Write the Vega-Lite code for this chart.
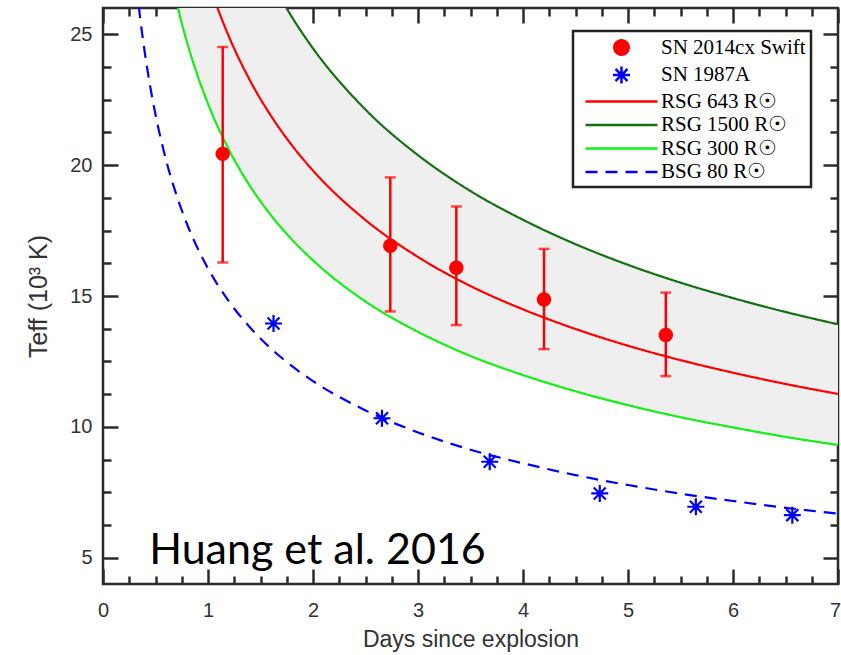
{
  "$schema": "https://vega.github.io/schema/vega-lite/v6.json",
  "width": 735,
  "height": 576,
  "autosize": {"type": "none"},
  "padding": {"left": 103, "top": 8, "right": 3, "bottom": 71},
  "background": "white",
  "datasets": {
    "band": [
      {"t": 0.6, "lo": 28.11, "hi": 42.03},
      {"t": 0.7, "lo": 26.23, "hi": 39.23},
      {"t": 0.8, "lo": 24.69, "hi": 36.93},
      {"t": 0.9, "lo": 23.42, "hi": 35.03},
      {"t": 1.0, "lo": 22.34, "hi": 33.41},
      {"t": 1.2, "lo": 20.58, "hi": 30.77},
      {"t": 1.4, "lo": 19.20, "hi": 28.71},
      {"t": 1.6, "lo": 18.08, "hi": 27.04},
      {"t": 1.8, "lo": 17.15, "hi": 25.65},
      {"t": 2.0, "lo": 16.36, "hi": 24.46},
      {"t": 2.5, "lo": 14.79, "hi": 22.12},
      {"t": 3.0, "lo": 13.63, "hi": 20.38},
      {"t": 3.5, "lo": 12.71, "hi": 19.01},
      {"t": 4.0, "lo": 11.98, "hi": 17.91},
      {"t": 4.5, "lo": 11.36, "hi": 16.98},
      {"t": 5.0, "lo": 10.83, "hi": 16.19},
      {"t": 5.5, "lo": 10.37, "hi": 15.51},
      {"t": 6.0, "lo": 9.98, "hi": 14.92},
      {"t": 6.5, "lo": 9.62, "hi": 14.39},
      {"t": 7.0, "lo": 9.31, "hi": 13.92}
    ],
    "curves": [
      {"series": "RSG 300 R☉", "t": 0.6, "T": 28.11},
      {"series": "RSG 300 R☉", "t": 0.7, "T": 26.23},
      {"series": "RSG 300 R☉", "t": 0.8, "T": 24.69},
      {"series": "RSG 300 R☉", "t": 0.9, "T": 23.42},
      {"series": "RSG 300 R☉", "t": 1.0, "T": 22.34},
      {"series": "RSG 300 R☉", "t": 1.2, "T": 20.58},
      {"series": "RSG 300 R☉", "t": 1.4, "T": 19.20},
      {"series": "RSG 300 R☉", "t": 1.6, "T": 18.08},
      {"series": "RSG 300 R☉", "t": 1.8, "T": 17.15},
      {"series": "RSG 300 R☉", "t": 2.0, "T": 16.36},
      {"series": "RSG 300 R☉", "t": 2.5, "T": 14.79},
      {"series": "RSG 300 R☉", "t": 3.0, "T": 13.63},
      {"series": "RSG 300 R☉", "t": 3.5, "T": 12.71},
      {"series": "RSG 300 R☉", "t": 4.0, "T": 11.98},
      {"series": "RSG 300 R☉", "t": 4.5, "T": 11.36},
      {"series": "RSG 300 R☉", "t": 5.0, "T": 10.83},
      {"series": "RSG 300 R☉", "t": 5.5, "T": 10.37},
      {"series": "RSG 300 R☉", "t": 6.0, "T": 9.98},
      {"series": "RSG 300 R☉", "t": 6.5, "T": 9.62},
      {"series": "RSG 300 R☉", "t": 7.0, "T": 9.31},
      {"series": "RSG 1500 R☉", "t": 1.6, "T": 27.04},
      {"series": "RSG 1500 R☉", "t": 1.8, "T": 25.65},
      {"series": "RSG 1500 R☉", "t": 2.0, "T": 24.46},
      {"series": "RSG 1500 R☉", "t": 2.5, "T": 22.12},
      {"series": "RSG 1500 R☉", "t": 3.0, "T": 20.38},
      {"series": "RSG 1500 R☉", "t": 3.5, "T": 19.01},
      {"series": "RSG 1500 R☉", "t": 4.0, "T": 17.91},
      {"series": "RSG 1500 R☉", "t": 4.5, "T": 16.98},
      {"series": "RSG 1500 R☉", "t": 5.0, "T": 16.19},
      {"series": "RSG 1500 R☉", "t": 5.5, "T": 15.51},
      {"series": "RSG 1500 R☉", "t": 6.0, "T": 14.92},
      {"series": "RSG 1500 R☉", "t": 6.5, "T": 14.39},
      {"series": "RSG 1500 R☉", "t": 7.0, "T": 13.92},
      {"series": "RSG 643 R☉", "t": 1.0, "T": 27.03},
      {"series": "RSG 643 R☉", "t": 1.1, "T": 25.90},
      {"series": "RSG 643 R☉", "t": 1.2, "T": 24.90},
      {"series": "RSG 643 R☉", "t": 1.4, "T": 23.23},
      {"series": "RSG 643 R☉", "t": 1.6, "T": 21.88},
      {"series": "RSG 643 R☉", "t": 1.8, "T": 20.75},
      {"series": "RSG 643 R☉", "t": 2.0, "T": 19.79},
      {"series": "RSG 643 R☉", "t": 2.5, "T": 17.90},
      {"series": "RSG 643 R☉", "t": 3.0, "T": 16.49},
      {"series": "RSG 643 R☉", "t": 3.5, "T": 15.38},
      {"series": "RSG 643 R☉", "t": 4.0, "T": 14.49},
      {"series": "RSG 643 R☉", "t": 4.5, "T": 13.74},
      {"series": "RSG 643 R☉", "t": 5.0, "T": 13.10},
      {"series": "RSG 643 R☉", "t": 5.5, "T": 12.55},
      {"series": "RSG 643 R☉", "t": 6.0, "T": 12.07},
      {"series": "RSG 643 R☉", "t": 6.5, "T": 11.64},
      {"series": "RSG 643 R☉", "t": 7.0, "T": 11.26},
      {"series": "BSG 80 R☉", "t": 0.3, "T": 27.59},
      {"series": "BSG 80 R☉", "t": 0.35, "T": 25.75},
      {"series": "BSG 80 R☉", "t": 0.4, "T": 24.24},
      {"series": "BSG 80 R☉", "t": 0.45, "T": 22.99},
      {"series": "BSG 80 R☉", "t": 0.5, "T": 21.93},
      {"series": "BSG 80 R☉", "t": 0.6, "T": 20.20},
      {"series": "BSG 80 R☉", "t": 0.7, "T": 18.85},
      {"series": "BSG 80 R☉", "t": 0.8, "T": 17.75},
      {"series": "BSG 80 R☉", "t": 0.9, "T": 16.83},
      {"series": "BSG 80 R☉", "t": 1.0, "T": 16.05},
      {"series": "BSG 80 R☉", "t": 1.2, "T": 14.79},
      {"series": "BSG 80 R☉", "t": 1.4, "T": 13.80},
      {"series": "BSG 80 R☉", "t": 1.6, "T": 12.99},
      {"series": "BSG 80 R☉", "t": 1.8, "T": 12.32},
      {"series": "BSG 80 R☉", "t": 2.0, "T": 11.75},
      {"series": "BSG 80 R☉", "t": 2.5, "T": 10.63},
      {"series": "BSG 80 R☉", "t": 3.0, "T": 9.79},
      {"series": "BSG 80 R☉", "t": 3.5, "T": 9.13},
      {"series": "BSG 80 R☉", "t": 4.0, "T": 8.61},
      {"series": "BSG 80 R☉", "t": 4.5, "T": 8.16},
      {"series": "BSG 80 R☉", "t": 5.0, "T": 7.78},
      {"series": "BSG 80 R☉", "t": 5.5, "T": 7.45},
      {"series": "BSG 80 R☉", "t": 6.0, "T": 7.17},
      {"series": "BSG 80 R☉", "t": 6.5, "T": 6.91},
      {"series": "BSG 80 R☉", "t": 7.0, "T": 6.69}
    ],
    "swift": [
      {"series": "SN 2014cx Swift", "t": 1.14, "T": 20.43, "lo": 16.28, "hi": 24.51},
      {"series": "SN 2014cx Swift", "t": 2.736, "T": 16.92, "lo": 14.41, "hi": 19.53},
      {"series": "SN 2014cx Swift", "t": 3.365, "T": 16.08, "lo": 13.89, "hi": 18.42},
      {"series": "SN 2014cx Swift", "t": 4.2, "T": 14.87, "lo": 12.97, "hi": 16.8},
      {"series": "SN 2014cx Swift", "t": 5.36, "T": 13.51, "lo": 11.94, "hi": 15.13}
    ],
    "sn87": [
      {"series": "SN 1987A", "t": 1.624, "T": 13.95},
      {"series": "SN 1987A", "t": 2.657, "T": 10.33},
      {"series": "SN 1987A", "t": 3.683, "T": 8.67},
      {"series": "SN 1987A", "t": 4.731, "T": 7.46},
      {"series": "SN 1987A", "t": 5.646, "T": 6.95},
      {"series": "SN 1987A", "t": 6.565, "T": 6.63}
    ],
    "note": [
      {"label": "Huang et al. 2016", "t": 0.44, "T": 4.77}
    ]
  },
  "layer": [
    {
      "data": {"name": "band"},
      "mark": {"type": "area", "color": "#efefef", "clip": true, "interpolate": "monotone"},
      "encoding": {
        "x": {"field": "t", "type": "quantitative", "scale": {"domain": [0, 7], "nice": false, "zero": false},
          "axis": {"orient": "bottom", "values": [0, 1, 2, 3, 4, 5, 6, 7], "tickSize": -15, "labelPadding": 31, "labelOffset": {"condition": {"test": "datum.value === 7", "value": -3}, "value": 0}, "title": "Days since explosion", "titlePadding": 8}},
        "y": {"field": "lo", "type": "quantitative", "scale": {"domain": [4, 26], "nice": false, "zero": false},
          "axis": {"orient": "left", "values": [5, 10, 15, 20, 25], "tickSize": -15, "labelPadding": 26, "title": "Teff (10³ K)", "titleFontSize": 25, "titlePadding": 18}},
        "y2": {"field": "hi"}
      }
    },
    {
      "data": {"name": "curves"},
      "mark": {"type": "line", "clip": true, "strokeWidth": 2.2, "interpolate": "monotone"},
      "encoding": {
        "x": {"field": "t", "type": "quantitative",
          "axis": {"orient": "bottom", "values": [0.25, 0.5, 0.75, 1.25, 1.5, 1.75, 2.25, 2.5, 2.75, 3.25, 3.5, 3.75, 4.25, 4.5, 4.75, 5.25, 5.5, 5.75, 6.25, 6.5, 6.75], "tickSize": -8, "labels": false, "title": null}},
        "y": {"field": "T", "type": "quantitative",
          "axis": {"orient": "left", "values": [6.25, 7.5, 8.75, 11.25, 12.5, 13.75, 16.25, 17.5, 18.75, 21.25, 22.5, 23.75], "tickSize": -8, "labels": false, "title": null}},
        "color": {"field": "series", "type": "nominal",
          "scale": {"domain": ["SN 2014cx Swift", "SN 1987A", "RSG 643 R☉", "RSG 1500 R☉", "RSG 300 R☉", "BSG 80 R☉"], "range": ["#ff0000", "#0000ff", "#ff0000", "#137013", "#14f014", "#0000ff"]},
          "legend": {"title": null, "encode": {
            "legend": {"update": {"strokeWidth": {"value": 2.5}}},
            "symbols": {"update": {"fill": {"scale": "color", "field": "value"}, "stroke": {"signal": "datum.value === 'SN 2014cx Swift' ? 'transparent' : scale('color', datum.value)"}, "shape": {"scale": "shape", "field": "value"}, "strokeDash": {"scale": "strokeDash", "field": "value"}, "opacity": {"value": 1}}}}}},
        "strokeDash": {"field": "series", "type": "nominal",
          "scale": {"domain": ["SN 2014cx Swift", "SN 1987A", "RSG 643 R☉", "RSG 1500 R☉", "RSG 300 R☉", "BSG 80 R☉"], "range": [[1, 0], [1, 0], [1, 0], [1, 0], [1, 0], [12, 8]]},
          "legend": {"title": null}}
      }
    },
    {
      "data": {"name": "swift"},
      "mark": {"type": "rule", "color": "#ff0000", "strokeWidth": 2.5},
      "encoding": {
        "x": {"field": "t", "type": "quantitative",
          "axis": {"orient": "top", "values": [0, 1, 2, 3, 4, 5, 6, 7], "tickSize": -15, "labels": false, "title": null}},
        "y": {"field": "lo", "type": "quantitative",
          "axis": {"orient": "right", "values": [5, 10, 15, 20, 25], "tickSize": -15, "labels": false, "title": null}},
        "y2": {"field": "hi"}
      }
    },
    {
      "data": {"name": "swift"},
      "mark": {"type": "tick", "color": "#ff0000", "orient": "horizontal", "size": 11, "thickness": 2.5},
      "encoding": {
        "x": {"field": "t", "type": "quantitative",
          "axis": {"orient": "top", "values": [0.25, 0.5, 0.75, 1.25, 1.5, 1.75, 2.25, 2.5, 2.75, 3.25, 3.5, 3.75, 4.25, 4.5, 4.75, 5.25, 5.5, 5.75, 6.25, 6.5, 6.75], "tickSize": -8, "labels": false, "title": null}},
        "y": {"field": "lo", "type": "quantitative",
          "axis": {"orient": "right", "values": [6.25, 7.5, 8.75, 11.25, 12.5, 13.75, 16.25, 17.5, 18.75, 21.25, 22.5, 23.75], "tickSize": -8, "labels": false, "title": null}}
      }
    },
    {
      "data": {"name": "swift"},
      "mark": {"type": "tick", "color": "#ff0000", "orient": "horizontal", "size": 11, "thickness": 2.5},
      "encoding": {
        "x": {"field": "t", "type": "quantitative", "axis": null},
        "y": {"field": "hi", "type": "quantitative", "axis": null}
      }
    },
    {
      "data": {"name": "swift"},
      "mark": {"type": "point", "filled": true, "opacity": 1, "size": 400},
      "encoding": {
        "x": {"field": "t", "type": "quantitative", "axis": null},
        "y": {"field": "T", "type": "quantitative", "axis": null},
        "color": {"field": "series", "type": "nominal", "legend": {"title": null}},
        "shape": {"field": "series", "type": "nominal",
          "scale": {"domain": ["SN 2014cx Swift", "SN 1987A", "RSG 643 R☉", "RSG 1500 R☉", "RSG 300 R☉", "BSG 80 R☉"],
            "range": ["M0.72,0A0.72,0.72,0,1,1,-0.72,0A0.72,0.72,0,1,1,0.72,0Z", "M-0.85,0L0.85,0M0,-0.85L0,0.85M-0.6,-0.6L0.6,0.6M-0.6,0.6L0.6,-0.6", "M-3.6,0L3.6,0", "M-3.6,0L3.6,0", "M-3.6,0L3.6,0", "M-3.6,0L3.6,0"]},
          "legend": {"title": null}}
      }
    },
    {
      "data": {"name": "sn87"},
      "mark": {"type": "point", "filled": false, "opacity": 1, "size": 400, "strokeWidth": 2.2},
      "encoding": {
        "x": {"field": "t", "type": "quantitative", "axis": null},
        "y": {"field": "T", "type": "quantitative", "axis": null},
        "color": {"field": "series", "type": "nominal", "legend": {"title": null}},
        "shape": {"field": "series", "type": "nominal", "legend": {"title": null}}
      }
    },
    {
      "data": {"name": "note"},
      "mark": {"type": "text", "font": "Lato", "fontSize": 43, "align": "left", "baseline": "alphabetic", "color": "#000000"},
      "encoding": {
        "x": {"field": "t", "type": "quantitative", "axis": null},
        "y": {"field": "T", "type": "quantitative", "axis": null},
        "text": {"field": "label"}
      }
    }
  ],
  "resolve": {"axis": {"x": "independent", "y": "independent"}},
  "config": {
    "view": {"stroke": "#2b2b2b", "strokeWidth": 2.5},
    "axis": {
      "domain": false, "grid": false,
      "tickColor": "#2b2b2b", "tickWidth": 2.5,
      "labelFont": "Liberation Sans", "labelFontSize": 20, "labelColor": "#333333",
      "titleFont": "Liberation Sans", "titleFontSize": 23, "titleColor": "#333333", "titleFontWeight": "normal",
      "labelFlush": false, "labelOverlap": false
    },
    "legend": {
      "orient": "none", "legendX": 470, "legendY": 23,
      "padding": 5, "strokeColor": "#222222", "fillColor": "#ffffff",
      "symbolSize": 400, "symbolStrokeWidth": 2.5,
      "symbolOffset": 32, "labelOffset": 28,
      "labelFont": "Liberation Serif", "labelFontSize": 21, "labelColor": "#000000",
      "rowPadding": 1.5, "labelLimit": 400
    }
  }
}
